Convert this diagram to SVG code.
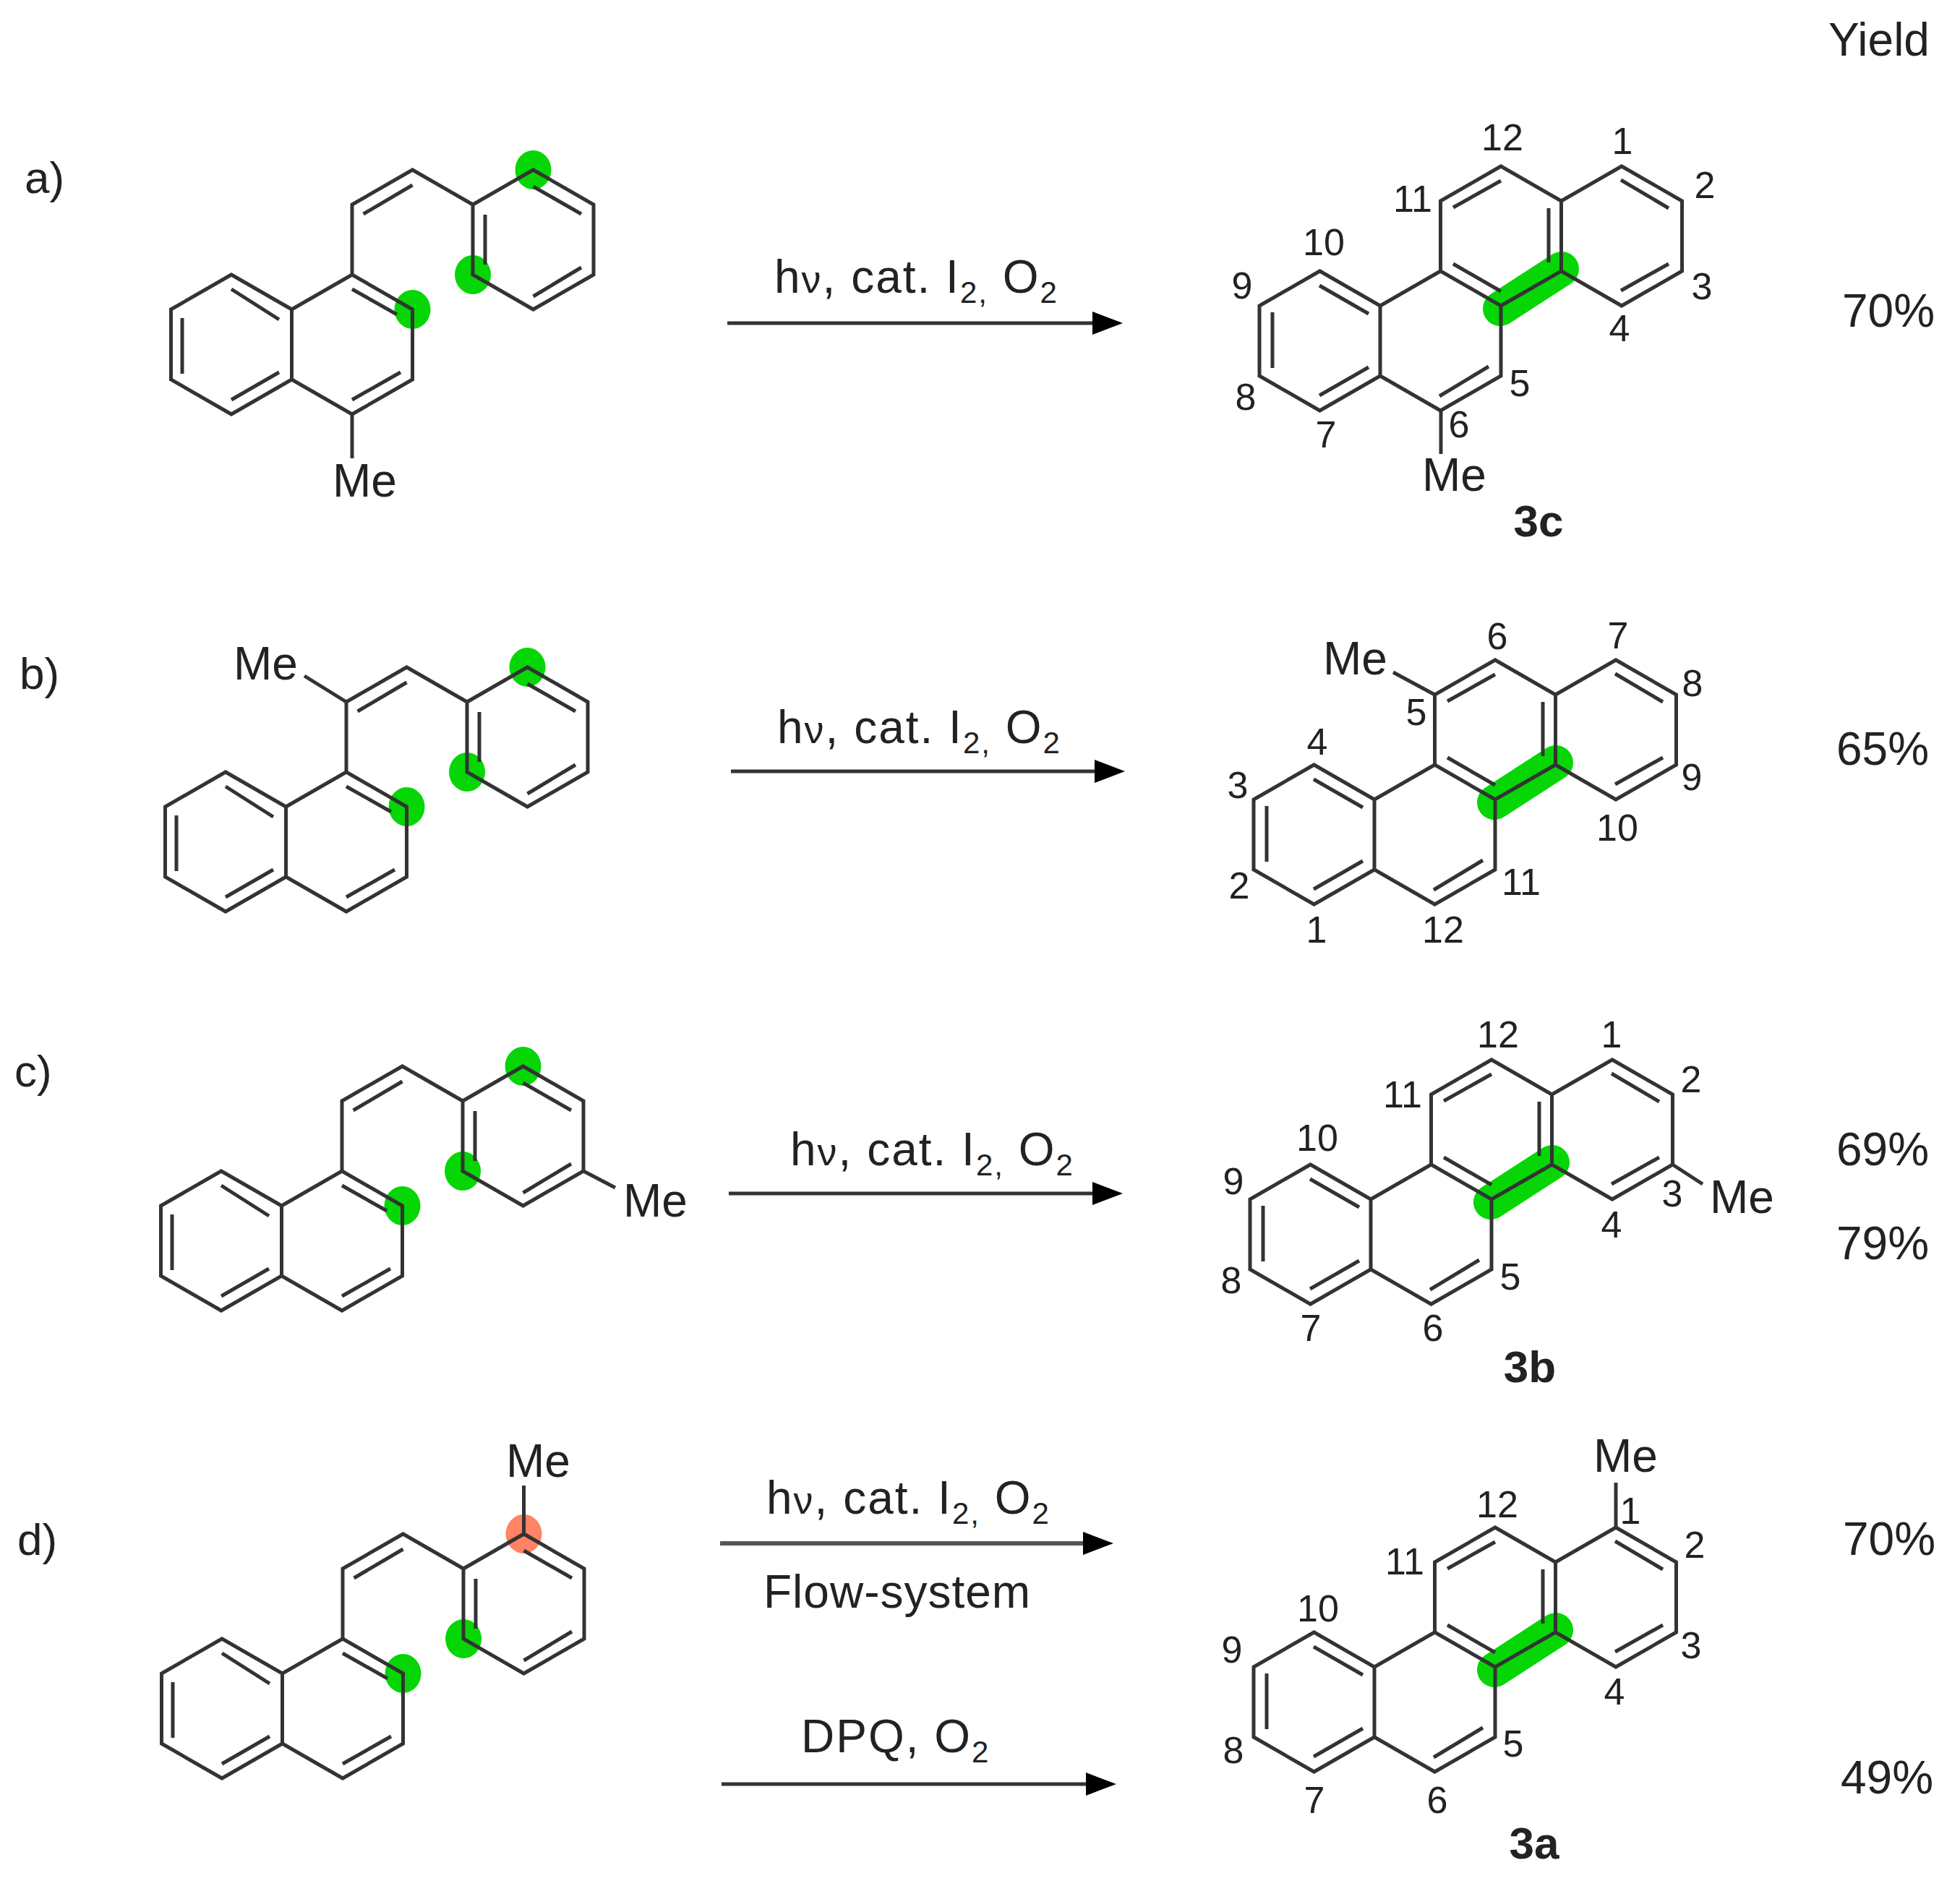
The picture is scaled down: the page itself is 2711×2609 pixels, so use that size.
<svg xmlns="http://www.w3.org/2000/svg" width="2711" height="2609" viewBox="0 0 2711 2609">
<style>
text{font-family:"Liberation Sans",Arial,sans-serif;fill:#222}
.bond{fill:none;stroke:#333;stroke-width:5;stroke-linejoin:miter}
.atom{font-size:64px}
.num{font-size:52px;text-anchor:middle}
.cid{font-size:62px;font-weight:bold;text-anchor:middle}
.tag{font-size:62px}
.cond{font-size:64px;letter-spacing:2px}
.flow{font-size:64px;letter-spacing:1px}
.yield{font-size:64px}
.dot{fill:#06d606}
.dot2{fill:#ff8364}
.hl{fill:none;stroke:#06d606;stroke-width:48;stroke-linecap:round}
.arrow{stroke:#333;stroke-width:5;fill:none;marker-end:url(#head)}
.arrow2{stroke:#555;stroke-width:6;fill:none;marker-end:url(#head)}
</style>
<defs>
<marker id="head" viewBox="0 0 42 32" refX="4" refY="16" markerWidth="42" markerHeight="32" markerUnits="userSpaceOnUse" orient="auto"><path d="M0,0 L42,16 L0,32Z" fill="#000"/></marker>
<g id="reactant-core">
<path class="bond" d="M0,0 L0,-97 L83.5,-145 L167,-97 L250.5,-145 L334,-97 L334,0 L250.5,48 L167,0 L167,-97 M0,0 L83.5,48 L83.5,145 L0,193 L-83.5,145 L-83.5,48 L0,0 M-83.5,48 L-167,0 L-250.5,48 L-250.5,145 L-167,193 L-83.5,145"/>
<path class="bond" d="M15.6,-84 L83.5,-124 M250.5,-122 L317,-84 M184,-83 L184,-14 M250.5,30 L317,-10 M0,20 L62,55 M0,173 L67,135 M-167,20 L-101,62 M-235,60 L-235,137 M-167,173 L-101,135"/>
</g>
<g id="product-core">
<path class="bond" d="M0,0 L83.5,-48 L83.5,-145 L0,-193 L-83.5,-145 L-83.5,-48 L0,0 L0,97 L-83.5,145 L-167,97 L-167,0 L-83.5,-48 M83.5,-48 L167,0 L250.5,-48 L250.5,-145 L167,-193 L83.5,-145 M-167,0 L-250.5,-48 L-334,0 L-334,97 L-250.5,145 L-167,97"/>
<path class="bond" d="M166,-174 L232,-135 M166,-21 L232,-58 M66,-135 L66,-60 M-66,-136 L0,-173 M-66,-58 L0,-20 M-85,125 L-17,84 M-251,-28 L-183,11 M-316,9 L-316,86 M-251,124 L-183,85"/>
</g>
</defs>
<rect width="2711" height="2609" fill="#fff"/>

<text id="yield-header" class="yield" x="2529" y="77">Yield</text>

<g id="row-a">
<text class="tag" x="34" y="267">a)</text>
<g id="reactant-a" transform="translate(487,380)">
<ellipse class="dot" cx="250.5" cy="-145" rx="25" ry="27"/><ellipse class="dot" cx="167" cy="0" rx="25" ry="27"/><ellipse class="dot" cx="83.5" cy="48" rx="25" ry="27"/>
<use href="#reactant-core"/>
<path class="bond" d="M0,193 L0,254"/>
<text class="atom" x="-27" y="307">Me</text>
</g>
<g id="product-3c">
<path class="hl" transform="translate(2076,423)" d="M-1,4 L84,-51"/>
<use href="#product-core" x="2076" y="423"/>
<path class="bond" d="M1993,566 L1993,628"/>
<text class="atom" x="1967" y="679">Me</text>
<text class="num" x="2244" y="213">1</text><text class="num" x="2358" y="274">2</text><text class="num" x="2354" y="414">3</text><text class="num" x="2240" y="472">4</text><text class="num" x="2102" y="548">5</text><text class="num" x="2018" y="605">6</text><text class="num" x="1834" y="619">7</text><text class="num" x="1723" y="567">8</text><text class="num" x="1718" y="413">9</text><text class="num" x="1831" y="353">10</text><text class="num" x="1954" y="293">11</text><text class="num" x="2078" y="208">12</text>
<text class="cid" x="2128" y="742">3c</text>
</g>
<text class="cond" x="1071" y="405">h<tspan font-size="54">ν</tspan>, cat. I<tspan font-size="42" dy="14">2,</tspan><tspan dy="-14"> O</tspan><tspan font-size="42" dy="14">2</tspan></text>
<text class="yield" x="2548" y="452">70%</text>
</g>

<g id="row-b">
<text class="tag" x="27" y="953">b)</text>
<g id="reactant-b" transform="translate(479,1068)">
<ellipse class="dot" cx="250.5" cy="-145" rx="25" ry="27"/><ellipse class="dot" cx="167" cy="0" rx="25" ry="27"/><ellipse class="dot" cx="83.5" cy="48" rx="25" ry="27"/>
<use href="#reactant-core"/>
<path class="bond" d="M0,-97 L-58,-133"/>
<text class="atom" x="-156" y="-128">Me</text>
</g>
<g id="product-b">
<path class="hl" transform="translate(2068,1106)" d="M-1,4 L84,-51"/>
<use href="#product-core" x="2068" y="1106"/>
<path class="bond" d="M1984.500,961 L1927,930"/>
<text class="atom" x="1830" y="933">Me</text>
<text class="num" x="1821" y="1304">1</text><text class="num" x="1714" y="1243">2</text><text class="num" x="1712" y="1104">3</text><text class="num" x="1822" y="1044">4</text><text class="num" x="1959" y="1003">5</text><text class="num" x="2071" y="898">6</text><text class="num" x="2238" y="897">7</text><text class="num" x="2341" y="963">8</text><text class="num" x="2340" y="1093">9</text><text class="num" x="2237" y="1163">10</text><text class="num" x="2104" y="1238">11</text><text class="num" x="1996" y="1304">12</text>
</g>
<text class="cond" x="1075" y="1028">h<tspan font-size="54">ν</tspan>, cat. I<tspan font-size="42" dy="14">2,</tspan><tspan dy="-14"> O</tspan><tspan font-size="42" dy="14">2</tspan></text>
<text class="yield" x="2540" y="1058">65%</text>
</g>

<g id="row-c">
<text class="tag" x="20" y="1503">c)</text>
<g id="reactant-c" transform="translate(473,1620)">
<ellipse class="dot" cx="250.5" cy="-145" rx="25" ry="27"/><ellipse class="dot" cx="167" cy="0" rx="25" ry="27"/><ellipse class="dot" cx="83.5" cy="48" rx="25" ry="27"/>
<use href="#reactant-core"/>
<path class="bond" d="M334,0 L378,23"/>
<text class="atom" x="389" y="63">Me</text>
</g>
<g id="product-3b">
<path class="hl" transform="translate(2063,1659)" d="M-1,4 L84,-51"/>
<use href="#product-core" x="2063" y="1659"/>
<path class="bond" d="M2313.500,1611 L2355,1638"/>
<text class="atom" x="2365" y="1678">Me</text>
<text class="num" x="2229" y="1449">1</text><text class="num" x="2339" y="1511">2</text><text class="num" x="2313" y="1669">3</text><text class="num" x="2229" y="1712">4</text><text class="num" x="2089" y="1784">5</text><text class="num" x="1982" y="1855">6</text><text class="num" x="1813" y="1855">7</text><text class="num" x="1703" y="1789">8</text><text class="num" x="1706" y="1652">9</text><text class="num" x="1822" y="1592">10</text><text class="num" x="1940" y="1532">11</text><text class="num" x="2072" y="1449">12</text>
<text class="cid" x="2116" y="1912">3b</text>
</g>
<text class="cond" x="1093" y="1612">h<tspan font-size="54">ν</tspan>, cat. I<tspan font-size="42" dy="14">2,</tspan><tspan dy="-14"> O</tspan><tspan font-size="42" dy="14">2</tspan></text>
<text class="yield" x="2540" y="1612">69%</text>
<text class="yield" x="2540" y="1742">79%</text>
</g>

<g id="row-d">
<text class="tag" x="24" y="2151">d)</text>
<g id="reactant-d" transform="translate(474,2267)">
<ellipse class="dot2" cx="250.5" cy="-145" rx="25" ry="27"/><ellipse class="dot" cx="167" cy="0" rx="25" ry="27"/><ellipse class="dot" cx="83.5" cy="48" rx="25" ry="27"/>
<use href="#reactant-core"/>
<path class="bond" d="M250.500,-145 L250.500,-212"/>
<text class="atom" x="226" y="-224">Me</text>
</g>
<g id="product-3a">
<path class="hl" transform="translate(2068,2306)" d="M-1,4 L84,-51"/>
<use href="#product-core" x="2068" y="2306"/>
<path class="bond" d="M2235,2113 L2235,2051"/>
<text class="atom" x="2204" y="2036">Me</text>
<text class="num" x="2255" y="2108">1</text><text class="num" x="2344" y="2155">2</text><text class="num" x="2339" y="2294">3</text><text class="num" x="2233" y="2358">4</text><text class="num" x="2093" y="2430">5</text><text class="num" x="1988" y="2508">6</text><text class="num" x="1818" y="2508">7</text><text class="num" x="1706" y="2439">8</text><text class="num" x="1704" y="2300">9</text><text class="num" x="1823" y="2243">10</text><text class="num" x="1943" y="2178">11</text><text class="num" x="2071" y="2099">12</text>
<text class="cid" x="2122" y="2571">3a</text>
</g>
<text class="cond" x="1060" y="2094">h<tspan font-size="54">ν</tspan>, cat. I<tspan font-size="42" dy="14">2,</tspan><tspan dy="-14"> O</tspan><tspan font-size="42" dy="14">2</tspan></text>
<text class="flow" x="1056" y="2224">Flow-system</text>
<text class="cond" x="1108" y="2424">DPQ, O<tspan font-size="42" dy="14">2</tspan></text>
<text class="yield" x="2549" y="2151">70%</text>
<text class="yield" x="2546" y="2481">49%</text>
</g>

<g id="connectors">
<line class="arrow" x1="1006" y1="447" x2="1515" y2="447"/>
<line class="arrow" x1="1011" y1="1067" x2="1518" y2="1067"/>
<line class="arrow" x1="1008" y1="1651" x2="1515" y2="1651"/>
<line class="arrow2" x1="996" y1="2135" x2="1502" y2="2135"/>
<line class="arrow" x1="998" y1="2468" x2="1506" y2="2468"/>
</g>
</svg>
